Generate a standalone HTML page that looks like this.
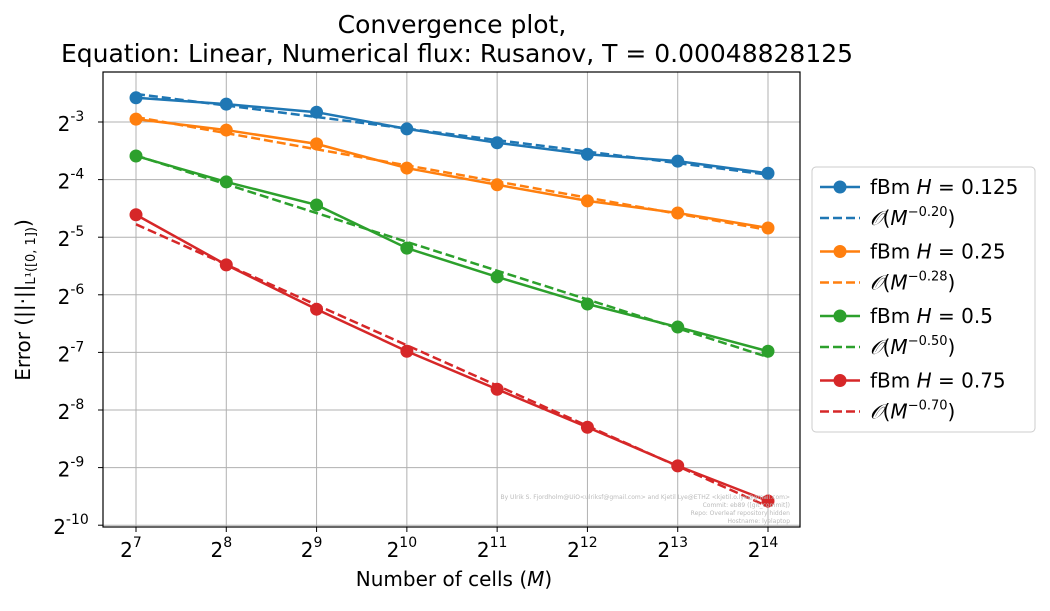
<!DOCTYPE html>
<html><head><meta charset="utf-8"><style>
body{margin:0;background:#fff;}
svg{font-family:"DejaVu Sans","Liberation Sans",sans-serif;}
</style></head><body>
<svg id="chart" width="1050" height="606" viewBox="0 0 1050 606">
<rect width="1050" height="606" fill="#fff"/>
<text x="452" y="33" text-anchor="middle" font-size="25">Convergence plot,</text>
<text x="457" y="62" text-anchor="middle" font-size="25">Equation: Linear, Numerical flux: Rusanov, T = 0.00048828125</text>
<g id="grid"></g><g id="series"></g><g id="axes"></g>
<text x="454" y="586" text-anchor="middle" font-size="20">Number of cells (<tspan font-style="italic">M</tspan>)</text>
<text transform="translate(30,300) rotate(-90)" text-anchor="middle" font-size="20">Error (||·||<tspan font-size="13" dy="5">L¹([0, 1])</tspan><tspan dy="-5">)</tspan></text>
<g font-size="6" fill="#bbb" text-anchor="end">
<text x="790" y="499">By Ulrik S. Fjordholm@UiO&lt;ulriksf@gmail.com&gt; and Kjetil Lye@ETHZ &lt;kjetil.o.lye@gmail.com&gt;</text>
<text x="790" y="507">Commit: eb89 ([git_commit])</text>
<text x="790" y="515">Repo: Overleaf repository hidden</text>
<text x="790" y="523">Hostname: lyelaptop</text>
</g>
<g id="legend"></g>
</svg>
<script>
const xExps=[7,8,9,10,11,12,13,14];
const yTickExps=[-3,-4,-5,-6,-7,-8,-9,-10];
const seriesLabels=["0.125","0.25","0.5","0.75"];
const rates=[0.20,0.28,0.50,0.70];
const blueVals=[-2.58,-2.69,-2.83,-3.12,-3.36,-3.56,-3.68,-3.89];
const orangeVals=[-2.95,-3.14,-3.38,-3.80,-4.09,-4.37,-4.58,-4.84];
const greenVals=[-3.59,-4.04,-4.44,-5.19,-5.69,-6.16,-6.56,-6.98];
const redVals=[-4.61,-5.48,-6.25,-6.98,-7.64,-8.30,-8.97,-9.58];
const colors=["#1f77b4","#ff7f0e","#2ca02c","#d62728"];
const allVals=[blueVals,orangeVals,greenVals,redVals];
const NS="http://www.w3.org/2000/svg";
const L=103,R=800,T=72,B=527;
function xs(e){return 136+(e-7)*(768-136)/7;}
function ys(v){return 122+(-3-v)*57.6;}
function mk(tag,attrs,parent){const el=document.createElementNS(NS,tag);for(const k in attrs)el.setAttribute(k,attrs[k]);parent.appendChild(el);return el;}
const grid=document.getElementById('grid'),axes=document.getElementById('axes'),ser=document.getElementById('series'),leg=document.getElementById('legend');
xExps.forEach(e=>{
 const l=mk('line',{x1:xs(e),x2:xs(e),y1:T,y2:B,stroke:'#b0b0b0','stroke-width':1},grid);
 
 
 mk('line',{x1:xs(e),x2:xs(e),y1:B,y2:B+5,stroke:'#000'},axes);
 const t=mk('text',{x:xs(e)-5,y:B+30,'text-anchor':'middle','font-size':20},axes);
 
 
 t.innerHTML='2<tspan font-size="14" dy="-10">'+e+'</tspan>';
});
yTickExps.forEach(e=>{
 const y=ys(e);
 if(y>=T&&y<=B){const l=mk('line',{x1:L,x2:R,y1:y,y2:y,stroke:'#b0b0b0','stroke-width':1},grid);
 
 }
 mk('line',{x1:L-5,x2:L,y1:y,y2:y,stroke:'#000'},axes);
 const t=mk('text',{x:L-32,y:y+9,'text-anchor':'middle','font-size':20},axes);
 
 
 t.innerHTML='2<tspan font-size="14" dy="-10">'+e+'</tspan>';
});
const frame=mk('rect',{x:L,y:T,width:R-L,height:B-T,fill:'none',stroke:'#000','stroke-width':1.2},axes);


allVals.forEach((vals,i)=>{
 const c=colors[i];
 const mx=xExps.reduce((a,b)=>a+b,0)/xExps.length, mv=vals.reduce((a,b)=>a+b,0)/vals.length;
 const fit=xExps.map(e=>mv-rates[i]*(e-mx));
 const d=mk('polyline',{points:xExps.map((e,j)=>xs(e)+','+ys(fit[j])).join(' '),fill:'none',stroke:c,'stroke-width':2.5,'stroke-dasharray':'9,4'},ser);
 
 
 const p=mk('polyline',{points:xExps.map((e,j)=>xs(e)+','+ys(vals[j])).join(' '),fill:'none',stroke:c,'stroke-width':2.5},ser);
 
 
 xExps.forEach((e,j)=>{const m=mk('circle',{cx:xs(e),cy:ys(vals[j]),r:6.5,fill:c},ser);
 
 });
});
const lb=mk('rect',{x:812,y:167,width:223,height:265,rx:4,fill:'#fff',stroke:'#ccc'},leg);


seriesLabels.forEach((h,i)=>{
 const c=colors[i];const y1=187+i*64.5,y2=y1+31;
 mk('line',{x1:820,x2:860,y1:y1,y2:y1,stroke:c,'stroke-width':2.5},leg);
 mk('circle',{cx:840,cy:y1,r:6.5,fill:c},leg);
 const t1=mk('text',{x:870,y:y1+7,'font-size':20},leg);
 
 
 t1.innerHTML='fBm <tspan font-style="italic">H</tspan> = '+h;
 mk('line',{x1:820,x2:860,y1:y2,y2:y2,stroke:c,'stroke-width':2.5,'stroke-dasharray':'9,4'},leg);
 const t2=mk('text',{x:870,y:y2+7,'font-size':20},leg);
 
 
 t2.innerHTML='<tspan font-style="italic">𝒪</tspan>(<tspan font-style="italic">M</tspan><tspan font-size="13" dy="-9">−'+rates[i].toFixed(2)+'</tspan><tspan dy="9">)</tspan>';
});
</script>
</body></html>
